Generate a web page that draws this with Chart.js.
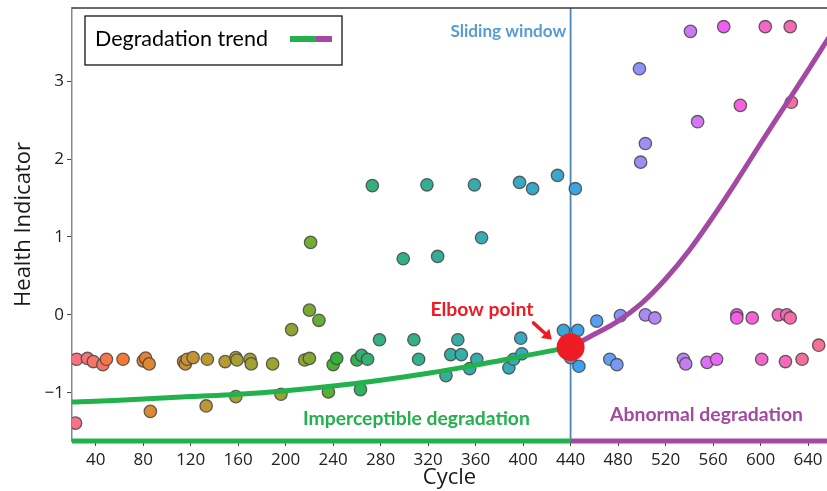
<!DOCTYPE html>
<html><head><meta charset="utf-8">
<script src="https://cdn.jsdelivr.net/npm/chart.js@4/dist/chart.umd.min.js"></script>
<style>html,body{margin:0;padding:0;background:#fff}#wrap{width:827px;height:491px;position:relative}</style>
</head><body><div id="wrap"><canvas id="c" width="827" height="491"></canvas></div>
<script>
// ---- data ----
const cycles = [23,24,33,38,46,49,63,80,82,85,86,114,115.5,117,122,133,134,149,158,158,159,170,171,189,196,205,216,220,220,221,228,236,240,243,260,263,264,269,273,279,299,308,312,319,328,335,339,345,348,355,359,361,365,388,392,397,398,399,408,429,434,440,444,446,447,462,473,479,482,498,499,503,503,511,535,537,541,547,555,563,569,580,580,583,593,601,604,615,621,622,625,625,626,635,649];
const health = [-1.39,-0.57,-0.56,-0.60,-0.64,-0.57,-0.57,-0.59,-0.555,-0.63,-1.24,-0.60,-0.63,-0.57,-0.55,-1.17,-0.57,-0.60,-0.55,-1.05,-0.58,-0.57,-0.63,-0.63,-1.02,-0.19,-0.58,-0.56,0.06,0.93,-0.07,-0.99,-0.64,-0.56,-0.58,-0.96,-0.52,-0.57,1.66,-0.32,0.72,-0.32,-0.57,1.67,0.75,-0.78,-0.51,-0.32,-0.51,-0.69,1.67,-0.57,0.99,-0.68,-0.57,1.70,-0.30,-0.50,1.62,1.79,-0.20,-0.55,1.62,-0.20,-0.66,-0.08,-0.57,-0.64,-0.01,3.16,1.96,2.20,0.00,-0.04,-0.57,-0.63,3.64,2.48,-0.61,-0.57,3.70,0.00,-0.04,2.69,-0.04,-0.57,3.70,0.00,-0.60,0.00,3.70,-0.04,2.73,-0.57,-0.39];
const trendGreenX = [20,40,80,120,160,200,240,280,320,360,400,440];
const trendGreenY = [-1.12,-1.11,-1.08,-1.05,-1.02,-0.975,-0.915,-0.84,-0.75,-0.645,-0.53,-0.415];
const trendPurpleX = [440,460,480,500,520,540,560,580,600,620,640,660];
const trendPurpleY = [-0.415,-0.25,-0.08,0.15,0.46,0.83,1.26,1.72,2.20,2.67,3.14,3.62];
const elbowCycle = [440];
const elbowHI = [-0.415];
const windowCycle = 440;
const xTicks = [40,80,120,160,200,240,280,320,360,400,440,480,520,560,600,640];
const yTicks = [-1,0,1,2,3];
const xMin = 20, xMax = 656, yMin = -1.62, yMax = 3.94;

// ---- husl palette (seaborn style) ----
const M = [[3.240969941904521,-1.537383177570093,-0.498610760293],[-0.96924363628087,1.87596750150772,0.041555057407175],[0.055630079696993,-0.20397695888897,1.056971514242878]];
const kappa = 903.2962962, epsilon = 0.0088564516;
function bounds(L){const s1=Math.pow(L+16,3)/1560896;const s2=s1>epsilon?s1:L/kappa;const r=[];for(const [m1,m2,m3] of M){for(const t of [0,1]){const top1=(284517*m1-94839*m3)*s2;const top2=(838422*m3+769860*m2+731718*m1)*L*s2-769860*t*L;const bot=(632260*m3-126452*m2)*s2+126452*t;r.push([top1/bot,top2/bot]);}}return r;}
function maxC(L,H){const h=H/360*2*Math.PI;let mn=Infinity;for(const [sl,ic] of bounds(L)){const len=ic/(Math.sin(h)-sl*Math.cos(h));if(len>=0)mn=Math.min(mn,len);}return mn;}
function fromLin(c){return c<=0.0031308?12.92*c:1.055*Math.pow(c,1/2.4)-0.055;}
function husl(H,S,L){const C=maxC(L,H)/100*S;const hr=H/180*Math.PI;const U=Math.cos(hr)*C,V=Math.sin(hr)*C;const rU=0.19783000664283,rV=0.46831999493879;const vU=U/(13*L)+rU,vV=V/(13*L)+rV;const Y=L<=8?L/kappa:Math.pow((L+16)/116,3);const X=0-(9*Y*vU)/((vU-4)*vV-vU*vV);const Z=(9*Y-15*vV*Y-vV*X)/(3*vV);const rgb=M.map(r=>Math.round(255*Math.min(1,Math.max(0,fromLin(r[0]*X+r[1]*Y+r[2]*Z)))));return `rgb(${rgb[0]},${rgb[1]},${rgb[2]})`;}
const n = cycles.length;
const pointColors = cycles.map((c,i)=>husl(((i/n+0.01)%1)*359, 89.1, 64.35));

const GREEN = '#22b14c', PURPLE = '#a349a4';
const FAM = "'Open Sans', sans-serif";
const LBL = "Lato, 'Open Sans', sans-serif";

function fitSize(ctx, text, weight, family, target){ctx.font=`${weight} 100px ${family}`;return 100*target/ctx.measureText(text).width;}

const overlay = {
  id:'overlay',
  afterDatasetsDraw(chart){
    const {ctx, chartArea:a, scales:{x,y}} = chart;
    ctx.save();
    // top spine
    ctx.strokeStyle='#3a3a3a'; ctx.lineWidth=1.5;
    ctx.beginPath(); ctx.moveTo(a.left, a.top); ctx.lineTo(a.right, a.top); ctx.stroke();
    // texts
    const txt=(t,color,px,py,width,align)=>{const fs=fitSize(ctx,t,'bold',LBL,width);ctx.font=`bold ${fs}px ${LBL}`;ctx.fillStyle=color;ctx.textAlign=align;ctx.textBaseline='middle';ctx.fillText(t,px,py);};
    txt('Sliding window','#5b9bd5',x.getPixelForValue(436.4),y.getPixelForValue(3.645),116,'right');
    txt('Elbow point','#ed1c24',x.getPixelForValue(365.3),y.getPixelForValue(0.068),103,'center');
    txt('Imperceptible degradation',GREEN,x.getPixelForValue(214.6),y.getPixelForValue(-1.333),227,'left');
    txt('Abnormal degradation',PURPLE,x.getPixelForValue(473.3),y.getPixelForValue(-1.281),193,'left');
    // arrow
    const x0=x.getPixelForValue(408.7), y0=y.getPixelForValue(-0.103), x1=x.getPixelForValue(424.2), y1=y.getPixelForValue(-0.317);
    ctx.strokeStyle='#ed1c24'; ctx.fillStyle='#ed1c24'; ctx.lineWidth=3.5; ctx.lineCap='round';
    const ang=Math.atan2(y1-y0,x1-x0);
    ctx.beginPath(); ctx.moveTo(x0,y0); ctx.lineTo(x1-6*Math.cos(ang),y1-6*Math.sin(ang)); ctx.stroke();
    ctx.beginPath(); ctx.moveTo(x1,y1);
    ctx.lineTo(x1-11*Math.cos(ang-0.6),y1-11*Math.sin(ang-0.6));
    ctx.lineTo(x1-11*Math.cos(ang+0.6),y1-11*Math.sin(ang+0.6)); ctx.closePath(); ctx.fill();
    // legend box
    const lx=a.left+13, ly=a.top+8, lw=257, lh=49;
    ctx.fillStyle='#fff'; ctx.fillRect(lx,ly,lw,lh);
    ctx.strokeStyle='#000'; ctx.lineWidth=1.2; ctx.strokeRect(lx,ly,lw,lh);
    const fs=fitSize(ctx,'Degradation trend','normal',LBL,173);
    ctx.font=`normal ${fs}px ${LBL}`; ctx.fillStyle='#000'; ctx.textAlign='left'; ctx.textBaseline='middle';
    ctx.fillText('Degradation trend', lx+10, ly+23);
    ctx.lineCap='butt'; ctx.lineWidth=6;
    ctx.strokeStyle=GREEN; ctx.beginPath(); ctx.moveTo(lx+205,ly+23); ctx.lineTo(lx+231,ly+23); ctx.stroke();
    ctx.strokeStyle=PURPLE; ctx.beginPath(); ctx.moveTo(lx+231,ly+23); ctx.lineTo(lx+247,ly+23); ctx.stroke();
    ctx.restore();
  }
};

const xy = (xs,ys)=>xs.map((v,i)=>({x:v,y:ys[i]}));

new Chart(document.getElementById('c'), {
  type:'scatter',
  data:{datasets:[
    {label:'elbow', data:xy(elbowCycle,elbowHI), pointRadius:14, pointBackgroundColor:'#ed1c24', pointBorderWidth:0, order:0},
    {label:'trend1', data:xy(trendGreenX,trendGreenY), showLine:true, borderColor:GREEN, borderWidth:5, pointRadius:0, tension:0.4, order:1},
    {label:'trend2', data:xy(trendPurpleX,trendPurpleY), showLine:true, borderColor:PURPLE, borderWidth:5, pointRadius:0, tension:0.4, order:2},
    {label:'bar1', data:[{x:xMin,y:yMin},{x:windowCycle,y:yMin}], showLine:true, borderColor:GREEN, borderWidth:5, pointRadius:0, clip:false, order:3},
    {label:'bar2', data:[{x:windowCycle,y:yMin},{x:xMax,y:yMin}], showLine:true, borderColor:PURPLE, borderWidth:5, pointRadius:0, clip:false, order:4},
    {label:'HI', data:xy(cycles,health), pointRadius:6.2, pointBackgroundColor:pointColors, pointBorderColor:'rgba(70,70,70,0.85)', pointBorderWidth:1.3, order:5},
    {label:'window', data:[{x:windowCycle,y:yMin},{x:windowCycle,y:yMax}], showLine:true, borderColor:'#4a87b8', borderWidth:1.8, pointRadius:0, order:6}
  ]},
  options:{
    responsive:false, animation:false, devicePixelRatio:1,
    layout:{autoPadding:false, padding:{top:8,left:0,right:0,bottom:0}},
    plugins:{legend:{display:false}, tooltip:{enabled:false}},
    scales:{
      x:{type:'linear', min:xMin, max:xMax,
        afterBuildTicks:s=>{s.ticks=xTicks.map(v=>({value:v}));},
        afterFit:s=>{s.height=50; s.paddingLeft=0; s.paddingRight=0;},
        ticks:{font:{family:FAM,size:17}, color:'#222', padding:4, maxRotation:0, autoSkip:false},
        grid:{drawOnChartArea:false, drawTicks:true, tickLength:5, color:'#444'},
        border:{display:false},
        title:{display:true, text:'Cycle', font:{family:FAM,size:22}, color:'#1a1a1a', padding:{top:-4,bottom:0}}
      },
      y:{min:yMin, max:yMax,
        afterBuildTicks:s=>{s.ticks=yTicks.map(v=>({value:v}));},
        afterFit:s=>{s.width=72; s.paddingTop=0; s.paddingBottom=0;},
        ticks:{font:{family:FAM,size:17}, color:'#222', padding:3, callback:v=>v<0?'\u2212'+Math.abs(v):String(v)},
        grid:{drawOnChartArea:false, drawTicks:true, tickLength:5, color:'#444'},
        border:{display:true, color:'#888', width:1.5},
        title:{display:true, text:'Health Indicator', font:{family:FAM,size:22}, color:'#1a1a1a', padding:{top:11,bottom:0}}
      }
    }
  },
  plugins:[overlay]
});
</script></body></html>
